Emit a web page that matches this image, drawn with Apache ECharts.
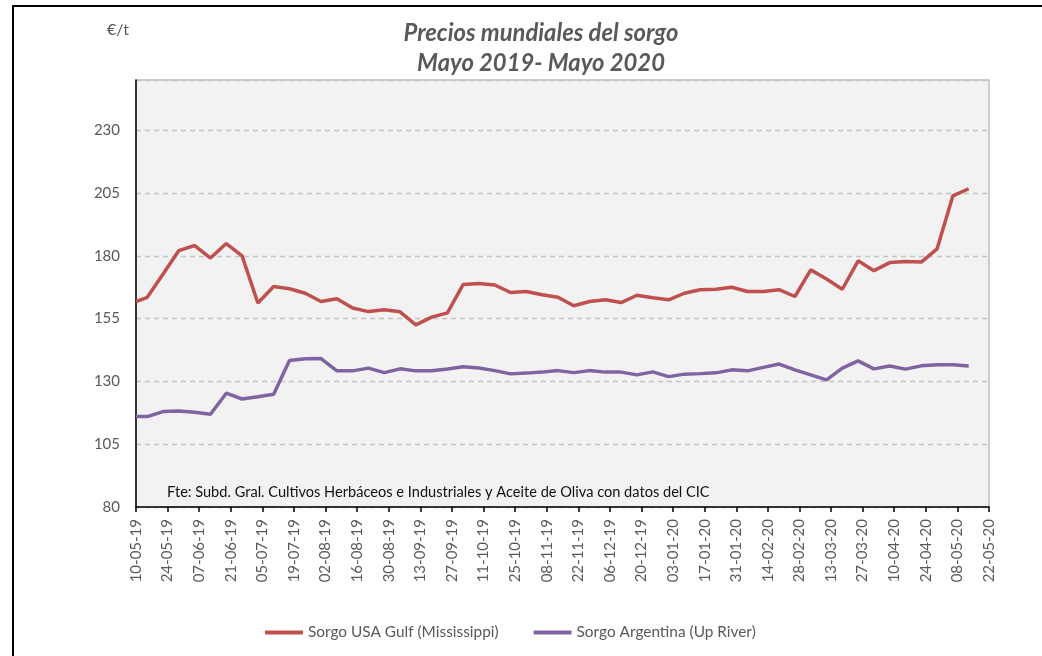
<!DOCTYPE html>
<html>
<head>
<meta charset="utf-8">
<script src="https://cdn.jsdelivr.net/npm/echarts@6/dist/echarts.min.js"></script>
<style>
html,body{margin:0;padding:0;background:#fff;}
#chart{width:1042px;height:656px;}
</style>
</head>
<body>
<div id="chart"></div>
<script>
// Observation dates (dd-mm-yy)
const dates = [
  '10-05-19','15-05-19','22-05-19','29-05-19','05-06-19','12-06-19','19-06-19','26-06-19',
  '03-07-19','10-07-19','17-07-19','24-07-19','31-07-19','07-08-19','14-08-19','21-08-19',
  '28-08-19','04-09-19','11-09-19','18-09-19','25-09-19','02-10-19','09-10-19','16-10-19',
  '23-10-19','30-10-19','06-11-19','13-11-19','20-11-19','27-11-19','04-12-19','11-12-19',
  '18-12-19','25-12-19','01-01-20','08-01-20','15-01-20','22-01-20','29-01-20','05-02-20',
  '12-02-20','19-02-20','26-02-20','04-03-20','11-03-20','18-03-20','25-03-20','01-04-20',
  '08-04-20','15-04-20','22-04-20','29-04-20','06-05-20','13-05-20'
];
// Sorgo USA Gulf (Mississippi), €/t
const usaGulf = [
  161.8,163.5,172.8,182.1,184.1,179.1,184.9,180.0,
  161.2,167.8,166.9,165.1,161.8,162.9,159.2,157.8,
  158.5,157.7,152.5,155.6,157.3,168.6,169.0,168.4,
  165.4,165.8,164.5,163.5,160.1,161.8,162.5,161.4,
  164.3,163.3,162.5,165.1,166.5,166.7,167.5,165.8,
  165.8,166.5,163.8,174.4,170.8,166.7,178.0,174.1,
  177.3,177.7,177.5,182.8,203.9,206.7
];
// Sorgo Argentina (Up River), €/t
const argentina = [
  116.0,116.0,118.0,118.2,117.7,116.9,125.3,123.0,
  123.9,124.9,138.3,139.0,139.1,134.2,134.2,135.3,
  133.5,135.0,134.2,134.2,134.9,135.8,135.3,134.3,
  133.0,133.3,133.7,134.3,133.5,134.3,133.7,133.7,
  132.6,133.8,131.9,132.9,133.1,133.4,134.6,134.2,
  135.6,136.9,134.6,132.6,130.6,135.3,138.2,135.0,
  136.1,134.9,136.2,136.6,136.6,136.1
];
// X-axis tick labels (every 14 days from 10-05-19)
const xTickLabels = [
  '10-05-19','24-05-19','07-06-19','21-06-19','05-07-19','19-07-19','02-08-19','16-08-19',
  '30-08-19','13-09-19','27-09-19','11-10-19','25-10-19','08-11-19','22-11-19','06-12-19',
  '20-12-19','03-01-20','17-01-20','31-01-20','14-02-20','28-02-20','13-03-20','27-03-20',
  '10-04-20','24-04-20','08-05-20','22-05-20'
];
const seriesNames = ['Sorgo USA Gulf (Mississippi)','Sorgo Argentina (Up River)'];

function toUTC(s){
  const p = s.split('-');
  return Date.UTC(2000 + (+p[2]), (+p[1]) - 1, +p[0]);
}
const t0 = toUTC(xTickLabels[0]);
const dayOf = s => Math.round((toUTC(s) - t0) / 86400000);
const pairs = vals => vals.map((v, i) => [dayOf(dates[i]), v]);

const FONT = 'Lato';
const chart = echarts.init(document.getElementById('chart'), null, {renderer: 'canvas'});
chart.setOption({
  animation: false,
  backgroundColor: '#ffffff',
  textStyle: {fontFamily: FONT},
  grid: {
    left: 136, right: 53, top: 80, bottom: 149,
    show: true, backgroundColor: '#f2f2f2', borderColor: '#bfbfbf', borderWidth: 1.5
  },
  xAxis: {
    type: 'value', min: 0, max: dayOf(xTickLabels[xTickLabels.length - 1]), interval: 14,
    axisLine: {show: true, onZero: false, lineStyle: {color: '#000', width: 1.5}},
    axisTick: {show: true, length: 5, lineStyle: {color: '#000', width: 1.5}},
    axisLabel: {
      rotate: 90, margin: 12, color: '#595959', fontSize: 15, fontFamily: FONT,
      formatter: v => xTickLabels[Math.round(v / 14)] || ''
    },
    splitLine: {show: false}
  },
  yAxis: {
    type: 'value', min: 80, max: 250, interval: 25,
    axisLine: {show: true, lineStyle: {color: '#000', width: 1.5}},
    axisTick: {show: false},
    axisLabel: {color: '#595959', fontSize: 15, margin: 16, showMaxLabel: false, fontFamily: FONT},
    splitLine: {show: true, lineStyle: {color: '#c4c4c4', type: [5, 4], width: 1.3}}
  },
  legend: {
    left: 260, top: 620,
    itemWidth: 38, itemHeight: 4, itemGap: 35, icon: 'rect',
    textStyle: {color: '#595959', fontSize: 15.4, fontFamily: FONT},
    data: seriesNames
  },
  graphic: [
    {type: 'rect', silent: true, z: 100,
     shape: {x: 13, y: 6, width: 1100, height: 700},
     style: {fill: 'none', stroke: '#000', lineWidth: 2}},
    {type: 'text', x: 541, y: 33, z: 100,
     style: {text: 'Precios mundiales del sorgo', align: 'center', verticalAlign: 'middle',
             font: 'italic bold 23.8px ' + FONT, fill: '#595959'}},
    {type: 'text', x: 541, y: 63, z: 100,
     style: {text: 'Mayo 2019- Mayo 2020', align: 'center', verticalAlign: 'middle',
             font: 'italic bold 23.8px ' + FONT, fill: '#595959'}},
    {type: 'text', x: 118, y: 30, z: 100,
     style: {text: '€/t', align: 'center', verticalAlign: 'middle',
             font: '16px ' + FONT, fill: '#595959'}},
    {type: 'text', x: 167, y: 492, z: 100,
     style: {text: 'Fte: Subd. Gral. Cultivos Herbáceos e Industriales y Aceite de Oliva con datos del CIC',
             align: 'left', verticalAlign: 'middle', font: '14.6px ' + FONT, fill: '#111'}}
  ],
  series: [
    {name: seriesNames[0], type: 'line', data: pairs(usaGulf), showSymbol: false, symbol: 'none',
     color: '#c0504d', lineStyle: {color: '#c0504d', width: 3.5}},
    {name: seriesNames[1], type: 'line', data: pairs(argentina), showSymbol: false, symbol: 'none',
     color: '#8064a2', lineStyle: {color: '#8064a2', width: 3.5}}
  ]
});
</script>
</body>
</html>
